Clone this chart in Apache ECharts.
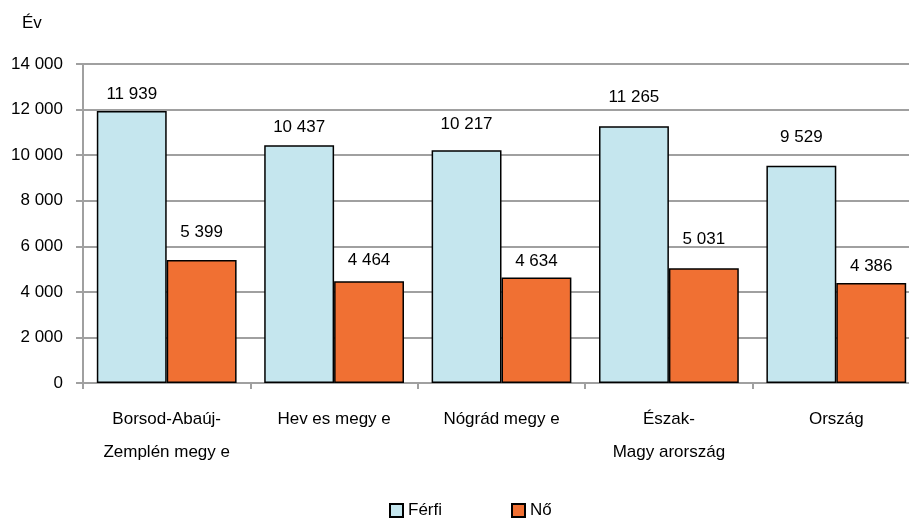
<!DOCTYPE html>
<html>
<head>
<meta charset="utf-8">
<script src="https://cdn.jsdelivr.net/npm/echarts@6/dist/echarts.min.js"></script>
<style>
    html, body {margin: 0; padding: 0; background: #FFFFFF; overflow: hidden;}
</style>
</head>
<body>
<!-- the plot runs past the right edge in the original, so the canvas is a bit wider than the window -->
<div id="main" style="width: 925px;height:520px;"></div>
<script>
    var categories = ['Borsod-Abaúj-\nZemplén megy e', 'Hev es megy e', 'Nógrád megy e', 'Észak-\nMagy arország', 'Ország'];
    var ferfi = [11939, 10437, 10217, 11265, 9529];
    var no = [5399, 4464, 4634, 5031, 4386];
    var yTicks = [0, 2000, 4000, 6000, 8000, 10000, 12000, 14000];

    // label lift above each bar, as placed in the original
    var ferfiLift = [8, 9, 17, 21, 20];
    var noLift = [19, 12, 8, 21, 8];

    var font = '"Liberation Sans", Arial, sans-serif';
    var fs = 17;

    function fmt(v) {
        return String(v).replace(/\B(?=(\d{3})+(?!\d))/g, ' ');
    }

    function withLabels(values, lifts) {
        return values.map(function (v, i) {
            return {value: v, label: {distance: lifts[i]}};
        });
    }

    var myChart = echarts.init(document.getElementById('main'));

    var option = {
        backgroundColor: '#FFFFFF',
        animation: false,
        title: {
            text: 'Év',
            left: 17,
            top: 10,
            textStyle: {fontFamily: font, fontSize: fs, fontWeight: 'normal', color: '#000'}
        },
        legend: {
            data: ['Férfi', 'Nő'],
            top: 497,
            left: 384,
            icon: 'rect',
            itemWidth: 13,
            itemHeight: 13,
            itemGap: 69,
            textStyle: {fontFamily: font, fontSize: fs, color: '#000'}
        },
        grid: {
            left: 83,
            top: 64,
            width: 837,
            height: 319
        },
        xAxis: {
            type: 'category',
            data: categories,
            axisLine: {lineStyle: {color: '#A0A0A0', width: 2}},
            axisTick: {show: true, length: 6, lineStyle: {color: '#A0A0A0', width: 2}},
            axisLabel: {
                interval: 0,
                margin: 20,
                lineHeight: 33,
                fontFamily: font,
                fontSize: fs,
                color: '#000'
            }
        },
        yAxis: {
            type: 'value',
            min: yTicks[0],
            max: yTicks[yTicks.length - 1],
            interval: 2000,
            axisLine: {show: true, lineStyle: {color: '#A0A0A0', width: 2}},
            axisTick: {show: true, length: 7, lineStyle: {color: '#A0A0A0', width: 2}},
            axisLabel: {
                margin: 20,
                fontFamily: font,
                fontSize: fs,
                color: '#000',
                formatter: function (v) { return fmt(v); }
            },
            splitLine: {show: true, lineStyle: {color: '#A0A0A0', width: 2}}
        },
        series: [
            {
                name: 'Férfi',
                type: 'bar',
                data: withLabels(ferfi, ferfiLift),
                barGap: 0,
                barCategoryGap: '16.5%',
                itemStyle: {color: '#C5E6EE', borderColor: '#000', borderWidth: 1.5},
                label: {
                    show: true,
                    position: 'top',
                    fontFamily: font,
                    fontSize: fs,
                    color: '#000',
                    formatter: function (p) { return fmt(p.value); }
                }
            },
            {
                name: 'Nő',
                type: 'bar',
                data: withLabels(no, noLift),
                barGap: 0,
                barCategoryGap: '16.5%',
                itemStyle: {color: '#F07033', borderColor: '#000', borderWidth: 1.5},
                label: {
                    show: true,
                    position: 'top',
                    fontFamily: font,
                    fontSize: fs,
                    color: '#000',
                    formatter: function (p) { return fmt(p.value); }
                }
            }
        ]
    };

    myChart.setOption(option);
</script>
</body>
</html>
